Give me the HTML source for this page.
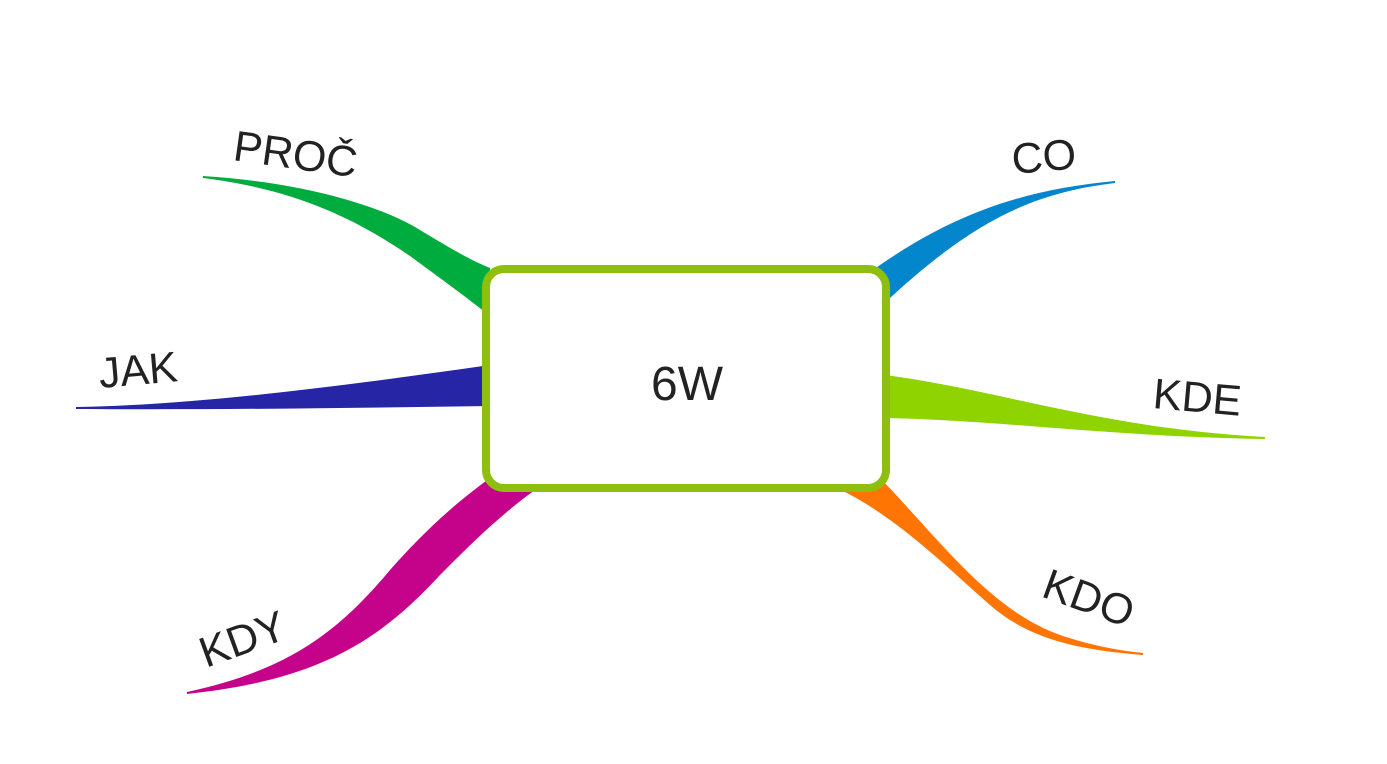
<!DOCTYPE html>
<html><head><meta charset="utf-8"><style>
html,body{margin:0;padding:0;background:#fff;}
svg{display:block;}
text{font-family:"Liberation Sans",sans-serif;fill:#222;}
</style></head><body>
<svg width="1387" height="764" viewBox="0 0 1387 764" xmlns="http://www.w3.org/2000/svg">
<path d="M203,176 C300,182 380,205 420,230 C450,248 470,260 490,268 L490,316 C470,300 440,278 410,256 C360,222 300,190 203,178 Z" fill="#00ac3e"/>
<path d="M76,407 C200,405 350,385 490,365 L490,406 C350,408 200,410 76,409 Z" fill="#2525a6"/>
<path d="M187,692 C290,670 340,630 390,570 C430,525 460,500 490,478 L535,490 C500,515 470,545 440,575 C380,640 320,680 187,694 Z" fill="#c4038a"/>
<path d="M870,272 C950,215 1020,190 1115,181 L1115,183 C1040,192 980,215 890,298 L870,300 Z" fill="#0486cc"/>
<path d="M885,375 C1000,390 1100,428 1265,437 L1265,439 C1100,436 1000,420 885,418 Z" fill="#8fd400"/>
<path d="M880,478 C940,540 990,610 1060,635 C1090,645 1115,650 1143,653 L1143,655 C1080,650 1030,640 990,605 C950,570 900,520 845,492 Z" fill="#ff7504"/>
<rect x="486" y="269" width="400" height="219" rx="18" ry="18" fill="#fff" stroke="#8fbf0e" stroke-width="8"/>
<text x="687" y="400" font-size="48" text-anchor="middle">6W</text>
<text x="232" y="160" font-size="43" transform="rotate(8 232 160)">PROČ</text>
<text x="100" y="388" font-size="43" transform="rotate(-5 100 388)">JAK</text>
<text x="206" y="668" font-size="43" transform="rotate(-20 206 668)">KDY</text>
<text x="1013" y="174" font-size="43" transform="rotate(-5 1013 174)">CO</text>
<text x="1152" y="408" font-size="43" transform="rotate(5 1152 408)">KDE</text>
<text x="1040" y="596" font-size="43" transform="rotate(20 1040 596)">KDO</text>
</svg>
</body></html>
